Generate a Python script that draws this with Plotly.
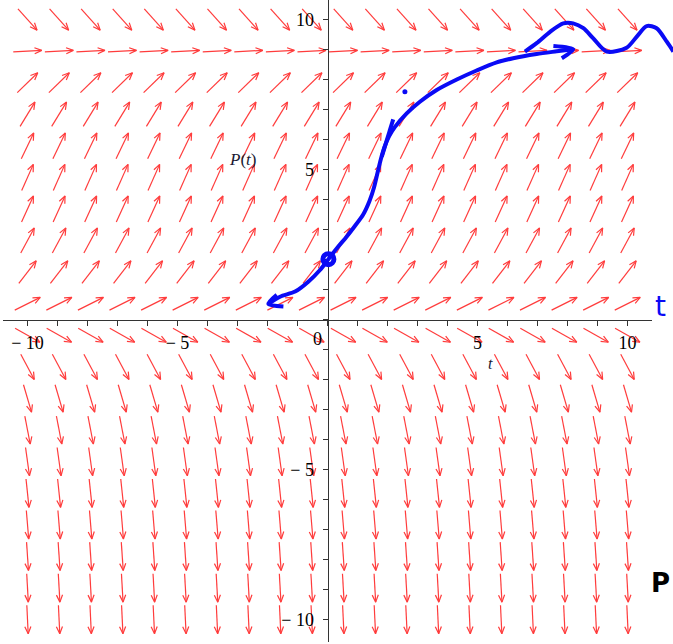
import numpy as np
import plotly.graph_objects as go

# ---------------- data ----------------
# direction-field grid (t columns, P rows)
t_grid = [-10.0, -8.947, -7.895, -6.842, -5.789, -4.737, -3.684, -2.632, -1.579, -0.526,
          0.526, 1.579, 2.632, 3.684, 4.737, 5.789, 6.842, 7.895, 8.947, 10.0]
p_grid = [-10.0, -8.947, -7.895, -6.842, -5.789, -4.737, -3.684, -2.632, -1.579, -0.526,
          0.526, 1.579, 2.632, 3.684, 4.737, 5.789, 6.842, 7.895, 8.947, 10.0]
# slope dP/dt of the arrows on each P row (same for every t column)
row_slopes = [-21.1, -17.8, -14.8, -12.0, -9.5, -7.2, -5.2, -3.4, -1.86, -0.56,
              0.50, 1.30, 1.86, 2.18, 2.24, 2.07, 1.64, 0.97, 0.05, -1.11]

tick_vals = list(range(-10, 11))
x_tick_text = {-10: "\u2212 10", -5: "\u2212 5", 5: "5", 10: "10"}
y_tick_text = {-10: "\u2212 10", -5: "\u2212 5", 5: "5", 10: "10"}

# hand-drawn solution curve (blue ink)
curve_t = [-1.97, -1.58, -1.08, -0.64, -0.25, 0.03, 0.36, 0.63, 0.90, 1.19, 1.40, 1.55, 1.67,
           1.78, 1.90, 2.06, 2.25, 2.64, 3.08, 3.64, 4.31, 4.97, 5.64, 6.19, 6.97, 7.64, 8.19]
curve_p = [0.52, 0.76, 0.93, 1.26, 1.65, 2.01, 2.43, 2.75, 3.10, 3.50, 3.95, 4.40, 4.90,
           5.35, 5.75, 6.12, 6.42, 6.87, 7.26, 7.65, 8.00, 8.30, 8.57, 8.71, 8.85, 8.94, 9.01]
head_low_t = [-1.69, -1.97, -1.47]
head_low_p = [0.82, 0.52, 0.43]
head_top_t = [7.53, 8.19, 7.81]
head_top_p = [9.12, 9.01, 8.71]
stroke_t = [2.19, 1.81]
stroke_p = [6.67, 5.43]
dot_t = [2.58]
dot_p = [7.59]
start_t = [0.03]
start_p = [2.01]
wave_t = [6.58, 6.97, 7.42, 7.86, 8.19, 8.53, 8.86, 9.31, 9.97, 10.31, 10.64, 10.97, 11.31, 11.53]
wave_p = [8.93, 9.21, 9.59, 9.87, 9.87, 9.71, 9.37, 8.93, 9.06, 9.43, 9.78, 9.71, 9.26, 8.93]

# ---------------- build arrows ----------------
L = 0.95      # arrow length (data units)
HEAD = 0.26   # barb length
ANG = np.deg2rad(23)
ax_x, ax_y = [], []
for p, s in zip(p_grid, row_slopes):
    th = np.arctan(s)
    dx, dy = np.cos(th), np.sin(th)
    for t in t_grid:
        x0, y0 = t - dx * L / 2, p - dy * L / 2
        x1, y1 = t + dx * L / 2, p + dy * L / 2
        ax_x += [x0, x1, None]
        ax_y += [y0, y1, None]
        a1, a2 = th + np.pi + ANG, th + np.pi - ANG
        ax_x += [x1 + HEAD * np.cos(a1), x1, x1 + HEAD * np.cos(a2), None]
        ax_y += [y1 + HEAD * np.sin(a1), y1, y1 + HEAD * np.sin(a2), None]

W, H = 673, 644
# main axes geometry
x_dom = [3 / W, 652 / W]
y_dom = [2 / H, 1.0]
x_rng = [-10.817, 10.817]
y_rng = [-10.75, 10.65]
# overlay (full paper) axes with the same scale
x2_rng = [-10.917, 11.517]
y2_rng = [-10.817, 10.65]

xpos = y_dom[0] + (0 - y_rng[0]) / (y_rng[1] - y_rng[0]) * (y_dom[1] - y_dom[0])
ypos = x_dom[0] + (0 - x_rng[0]) / (x_rng[1] - x_rng[0]) * (x_dom[1] - x_dom[0])

fig = go.Figure()
fig.add_trace(go.Scatter(x=ax_x, y=ax_y, mode="lines",
                         line=dict(color="rgb(255,60,60)", width=1.2),
                         hoverinfo="skip", showlegend=False))

ink = "rgb(10,10,245)"
for xx, yy in [(curve_t, curve_p), (head_low_t, head_low_p), (head_top_t, head_top_p),
               (stroke_t, stroke_p), (wave_t, wave_p)]:
    fig.add_trace(go.Scatter(x=xx, y=yy, xaxis="x2", yaxis="y2", mode="lines",
                             line=dict(color=ink, width=4, shape="spline", smoothing=0.8),
                             hoverinfo="skip", showlegend=False))
fig.add_trace(go.Scatter(x=dot_t, y=dot_p, xaxis="x2", yaxis="y2", mode="markers",
                         marker=dict(color=ink, size=5), showlegend=False))
fig.add_trace(go.Scatter(x=start_t, y=start_p, xaxis="x2", yaxis="y2", mode="markers",
                         marker=dict(symbol="circle-open", color=ink, size=11,
                                     line=dict(width=5, color=ink)),
                         showlegend=False))

axis_font = dict(family="Liberation Serif", size=18, color="black")
fig.update_layout(
    width=W, height=H,
    margin=dict(l=0, r=0, t=0, b=0),
    paper_bgcolor="white", plot_bgcolor="rgba(0,0,0,0)",
    showlegend=False,
    xaxis=dict(domain=x_dom, range=x_rng, anchor="free", position=xpos,
               showline=True, linecolor="#333", linewidth=1, showgrid=False, zeroline=False,
               ticks="outside", ticklen=5, tickcolor="#333", tickwidth=1,
               tickvals=tick_vals, ticktext=[x_tick_text.get(v, "") for v in tick_vals],
               tickfont=axis_font, ticklabelstandoff=2),
    yaxis=dict(domain=y_dom, range=y_rng, anchor="free", position=ypos,
               showline=True, linecolor="#333", linewidth=1, showgrid=False, zeroline=False,
               ticks="outside", ticklen=5, tickcolor="#333", tickwidth=1,
               tickvals=tick_vals, ticktext=[y_tick_text.get(v, "") for v in tick_vals],
               tickfont=axis_font, ticklabelstandoff=5),
    xaxis2=dict(domain=[0, 1], range=x2_rng, anchor="y2", visible=False),
    yaxis2=dict(domain=[0, 1], range=y2_rng, anchor="x2", visible=False),
)

fig.add_annotation(x=0, y=0, xref="x", yref="y", text="0", showarrow=False,
                   font=axis_font, xshift=-10, yshift=-19)
fig.add_annotation(x=5.43, y=-1.45, xref="x", yref="y", text="<i>t</i>", showarrow=False,
                   font=dict(family="Liberation Serif", size=16, color="#1a1a33"))
fig.add_annotation(x=-2.82, y=5.32, xref="x", yref="y", text="<i>P</i>(<i>t</i>)", showarrow=False,
                   font=dict(family="Liberation Serif", size=17, color="#1a1a33"))
fig.add_annotation(x=653 / W, y=1 - 307 / H, xref="paper", yref="paper", text="t",
                   xanchor="left", yanchor="middle", showarrow=False,
                   font=dict(family="DejaVu Sans", size=28, color=ink))
fig.add_annotation(x=672 / W, y=1 - 583 / H, xref="paper", yref="paper", text="<b>P</b>",
                   xanchor="right", yanchor="middle", showarrow=False,
                   font=dict(family="DejaVu Sans", size=26, color="black"))

fig.write_html("out.html", config={"displayModeBar": False},
               post_script="document.body.style.margin='0';document.body.style.overflow='hidden';")
